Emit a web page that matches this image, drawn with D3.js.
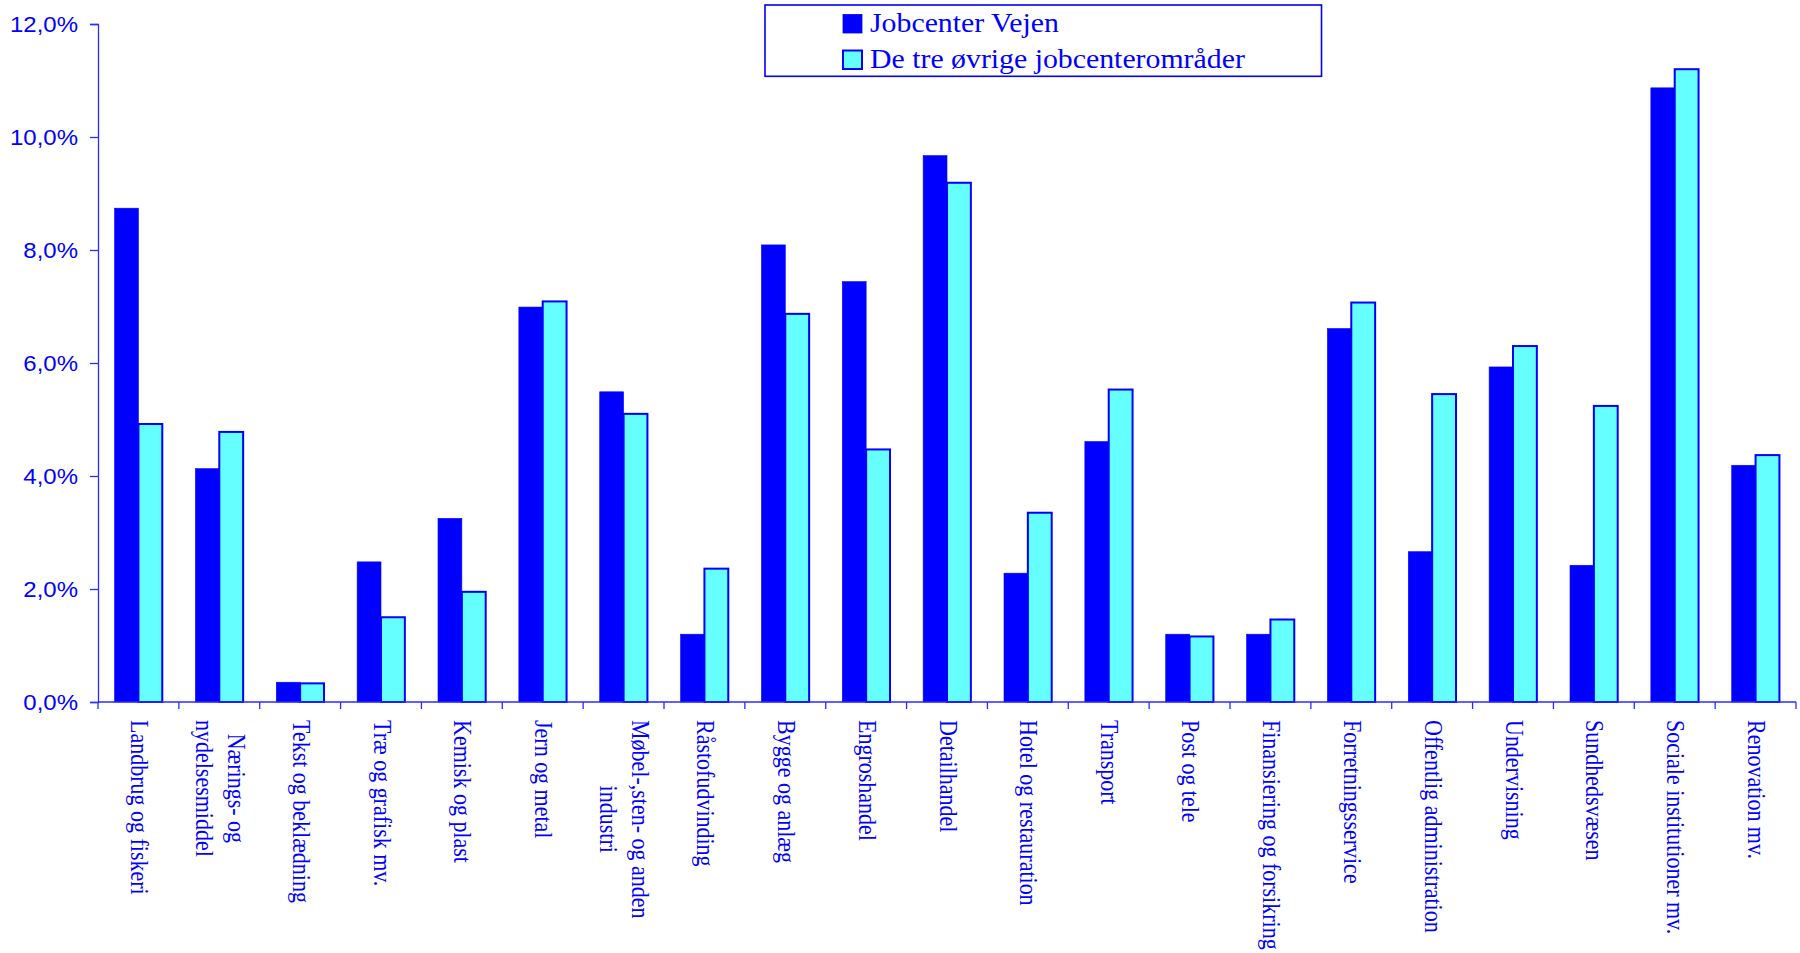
<!DOCTYPE html>
<html>
<head>
<meta charset="utf-8">
<script src="https://cdn.jsdelivr.net/npm/d3@7"></script>
<style>
  html, body { margin: 0; padding: 0; background: #ffffff; }
  svg { display: block; }
</style>
</head>
<body>
<svg id="chart" width="1800" height="953"></svg>
<script>
// ---- data ----
const categories = [
  "Landbrug og fiskeri",
  "Nærings- og\nnydelsesmiddel",
  "Tekst og beklædning",
  "Træ og grafisk mv.",
  "Kemisk og plast",
  "Jern og metal",
  "Møbel-,sten- og anden\nindustri",
  "Råstofudvinding",
  "Bygge og anlæg",
  "Engroshandel",
  "Detailhandel",
  "Hotel og restauration",
  "Transport",
  "Post og tele",
  "Finansiering og forsikring",
  "Forretningsservice",
  "Offentlig administration",
  "Undervisning",
  "Sundhedsvæsen",
  "Sociale institutioner mv.",
  "Renovation mv."
];
const seriesNames = ["Jobcenter Vejen", "De tre øvrige jobcenterområder"];
const vejen = [8.74, 4.13, 0.35, 2.48, 3.25, 6.99, 5.49, 1.20, 8.09, 7.44, 9.67, 2.28, 4.61, 1.20, 1.20, 6.61, 2.66, 5.93, 2.42, 10.87, 4.19];
const oevrige = [4.92, 4.78, 0.33, 1.50, 1.95, 7.09, 5.10, 2.36, 6.87, 4.47, 9.19, 3.35, 5.53, 1.16, 1.46, 7.07, 5.45, 6.30, 5.24, 11.20, 4.37];
const yTicks = [0, 2, 4, 6, 8, 10, 12];

(function () {
// ---- styles ----
const BLUE = "#0000ff";
const CYAN = "#66ffff";
const AXIS = "#2b2bff";

const svg = d3.select("#chart");
const mLeft = 98, mRight = 1796, mTop = 24, mBottom = 702;

const x0 = d3.scaleBand().domain(categories).range([mLeft, mRight])
  .paddingInner(0.41).paddingOuter(0.205);
const x1 = d3.scaleBand().domain(seriesNames).range([0, x0.bandwidth()]);
const y = d3.scaleLinear().domain([0, 12]).range([mBottom, mTop]);
const step = x0.step();

const rows = categories.map((c, i) => ({ cat: c, vals: [vejen[i], oevrige[i]] }));

// bars
const g = svg.append("g");
const groups = g.selectAll("g.cat").data(rows).join("g")
  .attr("transform", d => `translate(${x0(d.cat)},0)`);
groups.selectAll("rect").data(d => d.vals.map((v, k) => ({ k, v }))).join("rect")
  .attr("x", d => x1(seriesNames[d.k]))
  .attr("y", d => y(d.v))
  .attr("width", x1.bandwidth())
  .attr("height", d => y(0) - y(d.v))
  .attr("fill", d => d.k === 0 ? BLUE : CYAN)
  .attr("stroke", BLUE)
  .attr("stroke-width", d => d.k === 0 ? 0.6 : 2);

// y axis
const yAxis = d3.axisLeft(y).tickValues(yTicks).tickSize(8).tickPadding(12)
  .tickFormat(d => d3.format(".1f")(d).replace(".", ",") + "%");
const ya = svg.append("g").attr("transform", `translate(${mLeft},0)`).call(yAxis);
ya.select(".domain").attr("stroke", AXIS).attr("stroke-width", 1.3);
ya.selectAll(".tick line").attr("stroke", AXIS).attr("stroke-width", 1.3);
ya.selectAll(".tick text")
  .attr("fill", BLUE)
  .attr("font-family", "'Liberation Sans', Arial, sans-serif")
  .attr("font-size", 22)
  .attr("dy", "0.36em")
  .attr("x", null)
  .attr("transform", "translate(-20,0) scale(1.09,1)");

// x axis line + ticks at band boundaries
svg.append("line").attr("x1", mLeft).attr("x2", mRight).attr("y1", mBottom).attr("y2", mBottom)
  .attr("stroke", AXIS).attr("stroke-width", 1.3);
const boundaries = d3.range(categories.length + 1).map(i => mLeft + i * step);
svg.selectAll("line.xt").data(boundaries).join("line")
  .attr("class", "xt")
  .attr("x1", d => d).attr("x2", d => d).attr("y1", mBottom).attr("y2", mBottom + 7)
  .attr("stroke", AXIS).attr("stroke-width", 1.3);

// x labels rotated
const lineGap = 29;
const labels = svg.selectAll("g.xl").data(categories).join("g")
  .attr("class", "xl")
  .attr("transform", d => `translate(${x0(d) + x0.bandwidth() / 2 + 1},720) rotate(90) scale(1,1.12)`);
labels.each(function(d) {
  const lines = d.split("\n");
  const sel = d3.select(this);
  const n = lines.length;
  const texts = lines.map((ln, i) => sel.append("text")
    .text(ln)
    .attr("y", (i - (n - 1) / 2) * lineGap)
    .attr("dominant-baseline", "central")
    .attr("text-anchor", "middle")
    .attr("fill", BLUE)
    .attr("font-family", "'Liberation Serif', 'Times New Roman', serif")
    .attr("font-size", 22));
  const maxLen = d3.max(texts, t => t.node().getComputedTextLength());
  texts.forEach(t => t.attr("x", maxLen / 2));
});

// legend
const lg = svg.append("g");
lg.append("rect").attr("x", 765).attr("y", 5).attr("width", 556.5).attr("height", 71.3)
  .attr("fill", "#ffffff").attr("stroke", BLUE).attr("stroke-width", 1.6);
seriesNames.forEach((s, i) => {
  const yy = 14.5 + i * 36;
  lg.append("rect").attr("x", 843).attr("y", yy).attr("width", 19).attr("height", 18.5)
    .attr("fill", i === 0 ? BLUE : CYAN).attr("stroke", BLUE).attr("stroke-width", i === 0 ? 0.8 : 2);
  lg.append("text").text(s)
    .attr("transform", `translate(870,${32.3 + i * 36}) scale(1.065,1)`)
    .attr("fill", BLUE)
    .attr("font-family", "'Liberation Serif', 'Times New Roman', serif")
    .attr("font-size", 28);
});
})();
</script>
</body>
</html>
